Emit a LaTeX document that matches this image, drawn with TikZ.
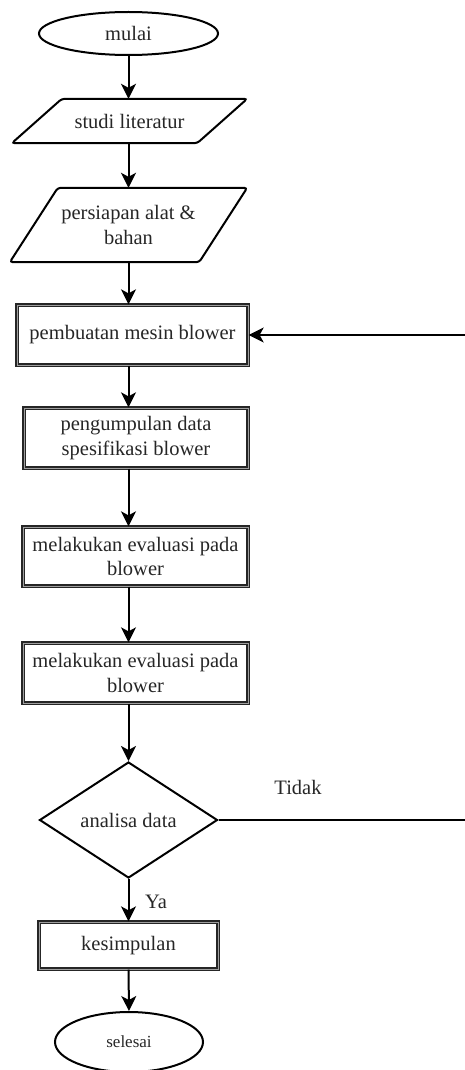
\documentclass[tikz,border=0pt]{standalone}
\usepackage{fontspec}
\setmainfont{Liberation Serif}
\usepackage{tikz}
\usetikzlibrary{shapes.geometric,arrows.meta}

\begin{document}
\begin{tikzpicture}[x=1pt, y=-1pt,
        font=\fontsize{20.5}{24.5}\selectfont,
        terminal/.style={draw=black, line width=2pt, ellipse, inner sep=0pt, text=black!85},
        process/.style={draw=black!85, line width=1.3pt, double=gray!75, double distance=0.8pt, rectangle, inner sep=0pt, align=center, text=black!85},
        inout/.style={rectangle, inner sep=0pt, align=center, text=black!85},
        slant/.style={draw=black, line width=2pt, rounded corners=3pt},
        decision/.style={draw=black, line width=2pt, diamond, inner sep=0pt, text=black!85},
        flow/.style={black, line width=2pt, -{Stealth[length=15pt, width=15pt, inset=4pt]}}]
        \useasboundingbox (0,0) rectangle (464,1070);

        \node[terminal, minimum width=179pt, minimum height=43pt] (mulai) at (128.5,33.5) {mulai};
        \node[inout, minimum width=185pt, minimum height=44pt] (studi) at (129.5,121) {studi literatur};
        \node[inout, minimum width=189pt, minimum height=74pt] (persiapan) at (128.5,225) {persiapan alat \&\\bahan};
        \node[process, minimum width=231pt, minimum height=60pt] (pembuatan) at (132.5,335) {pembuatan mesin blower};
        \node[process, minimum width=224pt, minimum height=60pt] (pengumpulan) at (136,438) {pengumpulan data\\spesifikasi blower};
        \node[process, minimum width=225pt, minimum height=59pt] (evaluasiA) at (135.5,556.5) {melakukan evaluasi pada\\blower};
        \node[process, minimum width=225pt, minimum height=60pt] (evaluasiB) at (135.5,673) {melakukan evaluasi pada\\blower};
        \node[decision, minimum width=178pt, minimum height=116pt, aspect=1.53] (analisa) at (128.5,820) {analisa data};
        \node[process, minimum width=179pt, minimum height=47pt] (kesimpulan) at (128.5,945.5) {kesimpulan};
        \node[terminal, minimum width=148pt, minimum height=60pt, font=\fontsize{17}{20}\selectfont] (selesai) at (129,1042) {selesai};

        \draw[slant] ([xshift=25pt]studi.north west) -- ([xshift=25pt]studi.north east) -- ([xshift=-25pt]studi.south east) -- ([xshift=-25pt]studi.south west) -- cycle;
        \draw[slant] ([xshift=24pt]persiapan.north west) -- ([xshift=24pt]persiapan.north east) -- ([xshift=-24pt]persiapan.south east) -- ([xshift=-24pt]persiapan.south west) -- cycle;

        \node[black!85] (tidak) at (298,787) {Tidak};
        \node[black!85] (ya) at (156,902) {Ya};
        \coordinate (balik) at (472,820);

        \draw[flow] (mulai.south) -- (studi.north -| mulai.south);
        \draw[flow] (studi.south -| mulai) -- (persiapan.north -| mulai);
        \draw[flow] (persiapan.south -| mulai) -- (pembuatan.north -| mulai);
        \draw[flow] (pembuatan.south -| mulai) -- (pengumpulan.north -| mulai);
        \draw[flow] (pengumpulan.south -| mulai) -- (evaluasiA.north -| mulai);
        \draw[flow] (evaluasiA.south -| mulai) -- (evaluasiB.north -| mulai);
        \draw[flow] (evaluasiB.south -| mulai) -- (analisa.north);
        \draw[flow] (analisa.south) -- (kesimpulan.north);
        \draw[flow] (kesimpulan.south) -- (selesai.north);
        \draw[flow] (analisa.east) -- (balik) |- (pembuatan.east);
\end{tikzpicture}
\end{document}
